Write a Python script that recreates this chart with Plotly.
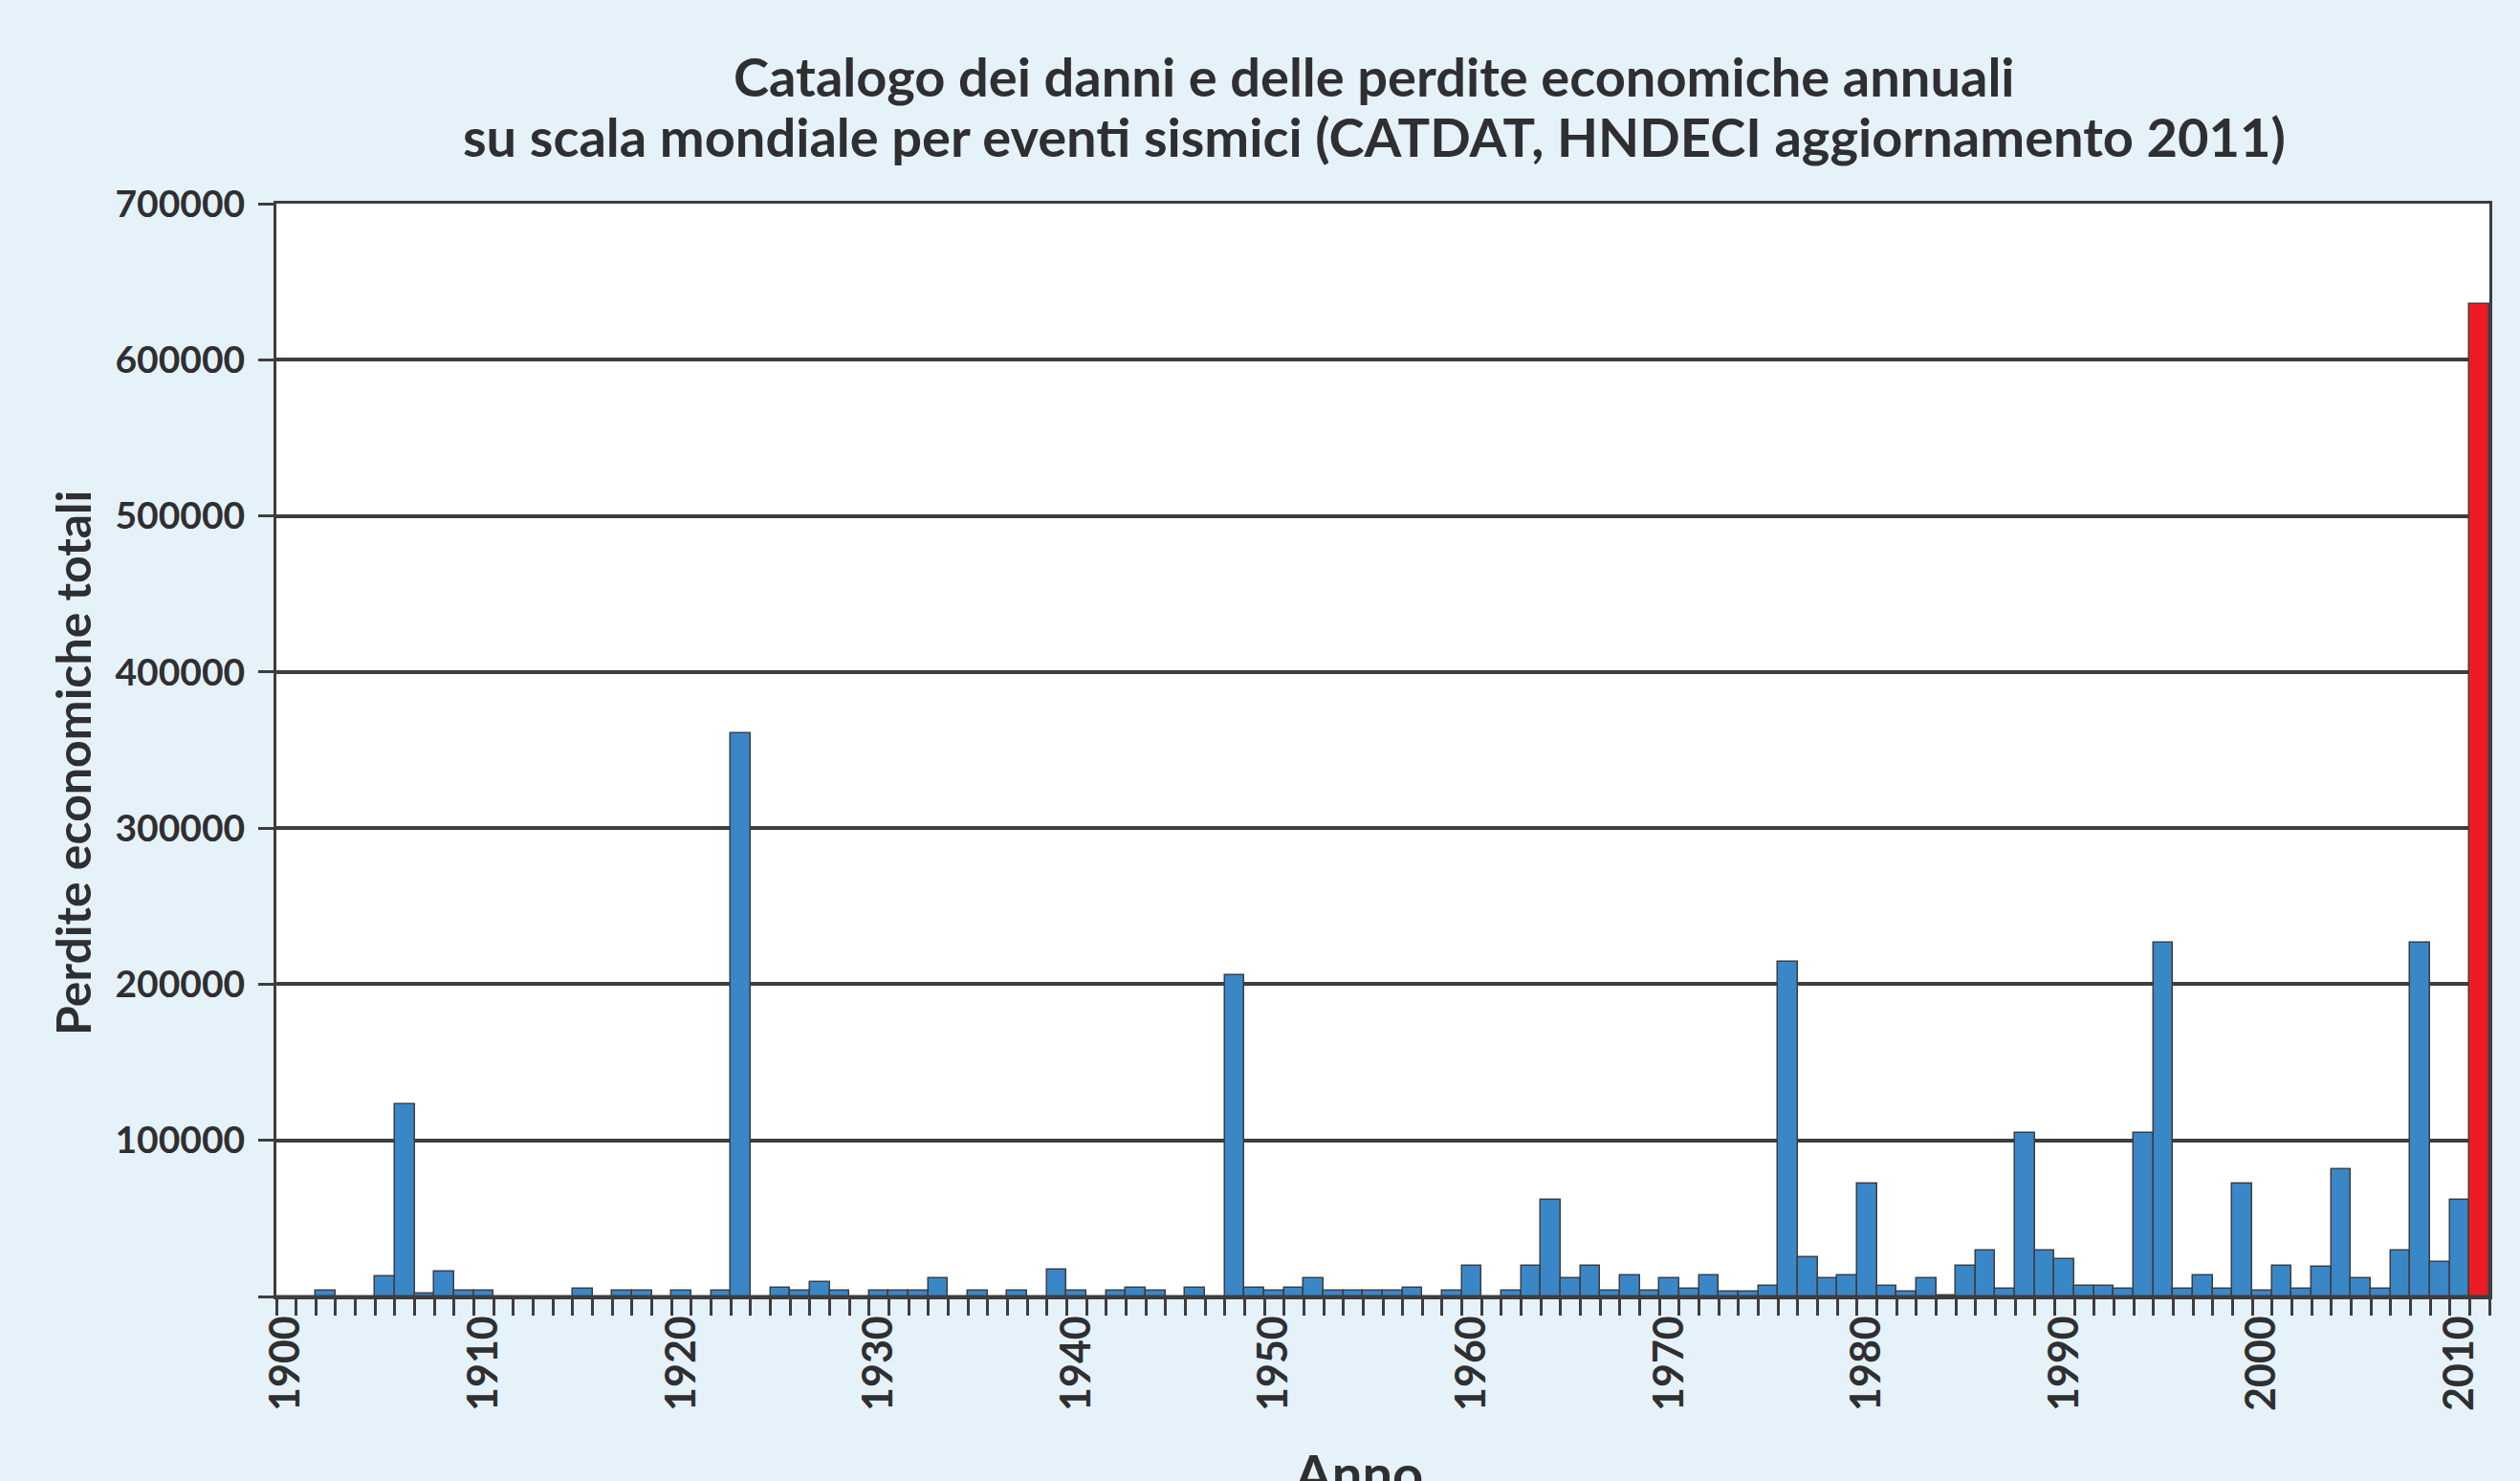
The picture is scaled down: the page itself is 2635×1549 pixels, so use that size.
import plotly.graph_objects as go

years = list(range(1900, 2012))
losses = [
    # 1900-1909
    0, 0, 3600, 0, 0, 13000, 123000, 2000, 16000, 3600,
    # 1910-1919
    3600, 0, 0, 0, 0, 5000, 0, 3600, 3600, 0,
    # 1920-1929
    3600, 0, 3600, 361000, 0, 5600, 3600, 9000, 3600, 0,
    # 1930-1939
    3600, 3600, 3600, 11700, 0, 3600, 0, 3600, 0, 17000,
    # 1940-1949
    3600, 0, 3600, 5600, 3600, 0, 5600, 0, 206000, 5600,
    # 1950-1959
    3600, 5600, 11700, 3600, 3600, 3600, 3600, 5600, 0, 3600,
    # 1960-1969
    19800, 0, 3600, 19800, 62000, 11700, 19800, 3600, 13700, 3600,
    # 1970-1979
    11700, 5200, 13500, 3200, 3200, 7000, 214500, 25000, 11700, 13300,
    # 1980-1989
    72200, 7000, 3200, 11700, 500, 19800, 29400, 5200, 104800, 29400,
    # 1990-1999
    23800, 7000, 7000, 5200, 104800, 226500, 5200, 13300, 5200, 72200,
    # 2000-2009
    3600, 19800, 5200, 18800, 81300, 11700, 5200, 29400, 226500, 21800,
    # 2010-2011
    62000, 636000,
]
assert len(losses) == len(years)

x_tick_vals = list(range(1900, 2011, 10))
x_tick_text = [str(v) for v in x_tick_vals]
y_tick_vals = [0, 100000, 200000, 300000, 400000, 500000, 600000, 700000]
y_tick_text = ["", "100000", "200000", "300000", "400000", "500000", "600000", "700000"]

title_line1 = "Catalogo dei danni e delle perdite economiche annuali"
title_line2 = "su scala mondiale per eventi sismici (CATDAT, HNDECI aggiornamento 2011)"
y_title = "Perdite economiche totali"
x_title = "Anno"

BLUE = "#3a87c8"
RED = "#ed1c24"
DARK = "#3d3d40"
TEXT = "#2f2f31"
FONT = "Lato"

colors = [BLUE] * (len(years) - 1) + [RED]

fig = go.Figure()
fig.add_trace(go.Bar(
    x=years, y=losses,
    marker=dict(color=colors, line=dict(color=DARK, width=1.5)),
    width=1.0,
    showlegend=False,
))

W, H = 2635, 1549
L, R, T, B = 289, 32, 213, 193

fig.update_layout(
    width=W, height=H,
    margin=dict(l=L, r=R, t=T, b=B, pad=0),
    paper_bgcolor="#e5f2f9",
    plot_bgcolor="white",
    bargap=0,
    font=dict(family=FONT, color=TEXT),
)

fig.update_xaxes(
    range=[1899.5, 2011.5],
    tickmode="array", tickvals=x_tick_vals, ticktext=x_tick_text,
    tickangle=-90,
    ticks="", ticklen=0,
    tickfont=dict(family=FONT, size=43, color=TEXT, weight="bold"),
    showline=True, linecolor=DARK, linewidth=3, mirror=True,
    showgrid=False, zeroline=False,
    minor=dict(tickmode="linear", tick0=1899.5, dtick=1, ticks="outside",
               ticklen=17, tickwidth=3, tickcolor=DARK, showgrid=False),
)
fig.update_yaxes(
    range=[0, 700000],
    tickmode="array", tickvals=y_tick_vals, ticktext=y_tick_text,
    ticks="outside", ticklen=16, tickwidth=3, tickcolor=DARK,
    ticklabelstandoff=6,
    tickfont=dict(family=FONT, size=39, color=TEXT, weight="bold"),
    showline=True, linecolor=DARK, linewidth=3, mirror=True,
    showgrid=True, gridcolor=DARK, gridwidth=4,
    zeroline=False,
)

plot_w = W - L - R
plot_h = H - T - B

def px_to_paper_x(px):
    return (px - L) / plot_w

def px_to_paper_y(py):
    return (H - B - py) / plot_h

fig.add_annotation(text=f"<b>{title_line1}</b>", xref="paper", yref="paper",
                   x=px_to_paper_x(1437), y=px_to_paper_y(79), xanchor="center", yanchor="middle",
                   showarrow=False, font=dict(family=FONT, size=56, color=TEXT))
fig.add_annotation(text=f"<b>{title_line2}</b>", xref="paper", yref="paper",
                   x=px_to_paper_x(1437), y=px_to_paper_y(143), xanchor="center", yanchor="middle",
                   showarrow=False, font=dict(family=FONT, size=56, color=TEXT))
fig.add_annotation(text=f"<b>{y_title}</b>", xref="paper", yref="paper",
                   x=px_to_paper_x(76), y=px_to_paper_y(798), xanchor="center", yanchor="middle",
                   textangle=-90, showarrow=False, font=dict(family=FONT, size=50, color=TEXT))
fig.add_annotation(text=f"<b>{x_title}</b>", xref="paper", yref="paper",
                   x=px_to_paper_x(1420), y=px_to_paper_y(1505), xanchor="center", yanchor="top",
                   showarrow=False, font=dict(family=FONT, size=56, color=TEXT))

fig.write_html("out.html", config={"displayModeBar": False},
               post_script="document.body.style.margin='0';document.body.style.overflow='hidden';")
